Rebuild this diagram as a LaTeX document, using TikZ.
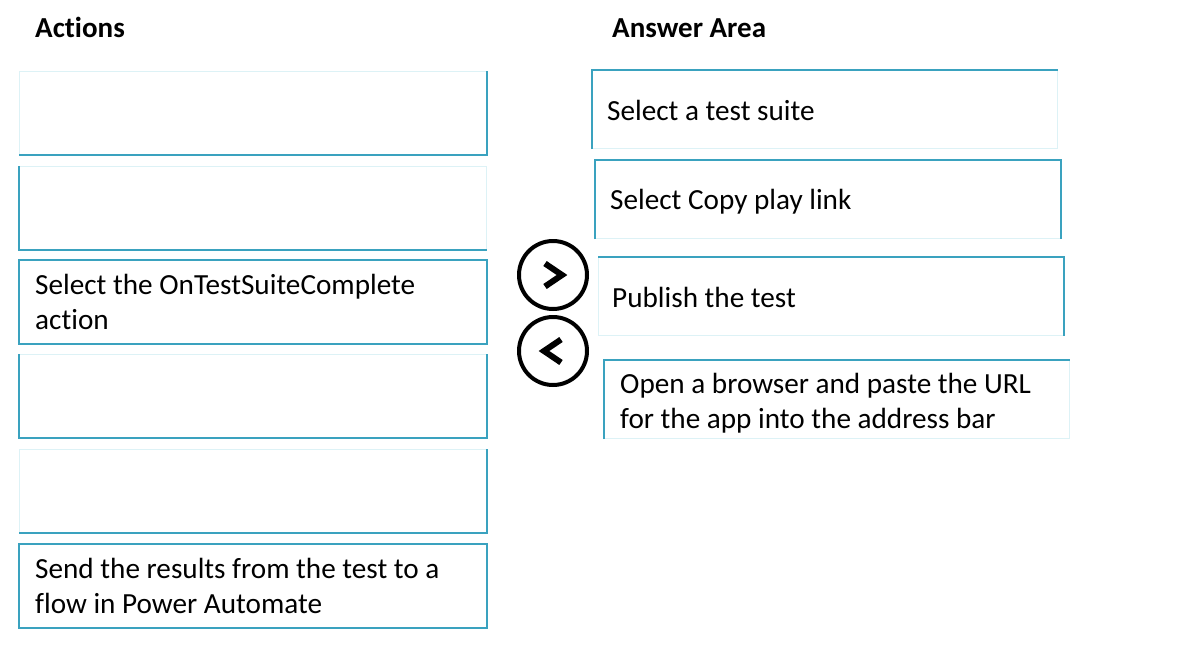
\documentclass[tikz,border=0pt]{standalone}
\usepackage{fontspec}
\setmainfont{Carlito}[Ligatures=NoCommon]
\usetikzlibrary{positioning}
\definecolor{slotc}{HTML}{3AA2BF}
\definecolor{fadec}{HTML}{DDF2F6}

\begin{document}
\begin{tikzpicture}[x=1pt, y=-1pt,
  slot/.style={draw=fadec, line width=1pt, minimum width=467pt,
               minimum height=83pt, inner sep=0pt, anchor=north west},
  aslot/.style={slot, minimum width=465pt, minimum height=78pt},
  rim/.style={draw=slotc, line width=2.5pt},
  lbl/.style={anchor=north west, inner sep=0pt, align=left,
              font=\fontsize{29.2}{35}\selectfont},
  head/.style={anchor=base west, inner sep=0pt,
               font=\fontsize{29}{32}\selectfont\bfseries},
  btn/.style={circle, draw=black, line width=4pt, minimum size=68pt, inner sep=0pt},
  chev/.style={line width=6pt, line join=miter}]
  \useasboundingbox[fill=white] (0,0) rectangle (1179,648);
  % headings
  \node[head] (hact) at (35,37) {Actions};
  \node[head] (hans) at (612,37) {Answer Area};
  % actions
  \node[slot] (a1) at (19,71) {};
  \node[slot] (a2) at (19,166) {};
  \node[slot] (a3) at (19,260) {};
  \node[slot] (a4) at (19,354) {};
  \node[slot] (a5) at (19,449) {};
  \node[slot] (a6) at (19,544) {};
  \draw[rim] (a1.north east) -- (a1.south east) -- (a1.south west);
  \draw[rim] (a2.north west) -- (a2.south west) -- (a2.south east);
  \draw[rim] (a3.north west) rectangle (a3.south east);
  \draw[rim] (a4.north west) -- (a4.south west) -- (a4.south east) -- (a4.north east);
  \draw[rim] (a5.north east) -- (a5.south east) -- (a5.south west);
  \draw[rim] (a6.north west) rectangle (a6.south east);
  \node[lbl] (t3) at (35,269.5) {\strut Select the OnTestSuiteComplete\\action};
  \node[lbl] (t6) at (35,553.5) {\strut Send the results from the test to a\\flow in Power Automate};
  % move buttons
  \node[btn] (fwd) at (553,275) {};
  \node[btn] (back) at (553,351) {};
  \draw[chev] ([shift={(-8,-11.5)}]fwd.center) -- ([shift={(9,0)}]fwd.center)
    -- ([shift={(-8,11.5)}]fwd.center);
  \draw[chev] ([shift={(8,-11.5)}]back.center) -- ([shift={(-9,0)}]back.center)
    -- ([shift={(8,11.5)}]back.center);
  % answer area
  \node[aslot] (r1) at (592,70) {};
  \node[aslot] (r2) at (595,160) {};
  \node[aslot] (r3) at (598,257) {};
  \node[aslot] (r4) at (604,360) {};
  \draw[rim] (r1.south west) -- (r1.north west) -- (r1.north east);
  \draw[rim] (r2.south west) -- (r2.north west) -- (r2.north east) -- (r2.south east);
  \draw[rim] (r3.north west) -- (r3.north east) -- (r3.south east);
  \draw[rim] (r4.south west) -- (r4.north west) -- (r4.north east);
  \node[lbl] (s1) at (607,95.5) {\strut Select a test suite};
  \node[lbl] (s2) at (610,184.5) {\strut Select Copy play link};
  \node[lbl] (s3) at (612,282.5) {\strut Publish the test};
  \node[lbl] (s4) at (620,368.5) {\strut Open a browser and paste the URL\\for the app into the address bar};
\end{tikzpicture}
\end{document}
